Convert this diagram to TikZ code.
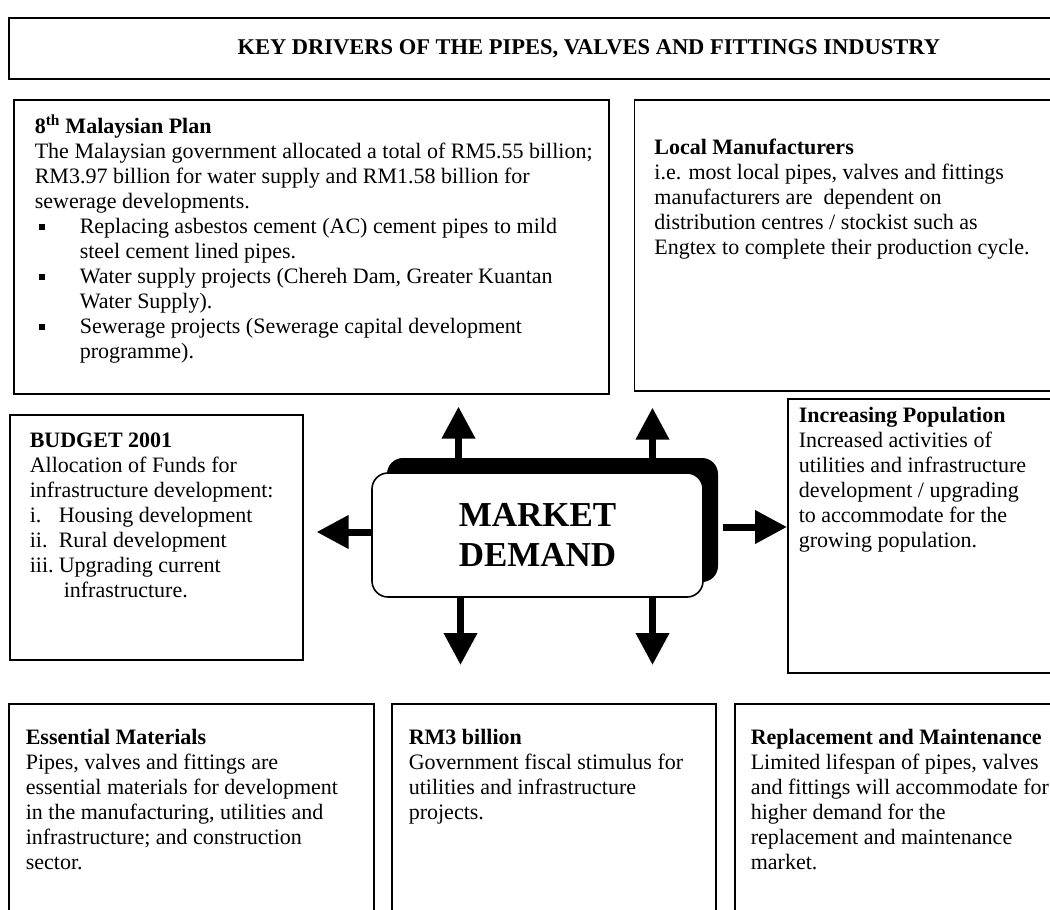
\documentclass[tikz,border=0pt]{standalone}
\usepackage{fontspec}
\setmainfont{Liberation Serif}
\usetikzlibrary{positioning}
\usetikzlibrary{arrows.meta}
\usetikzlibrary{shadows}

\newcommand{\blt}{\hspace*{4pt}\makebox[41pt][l]{\rule[4pt]{6pt}{6pt}}}
\newcommand{\hang}{\hspace*{45pt}}

\begin{document}
\begin{tikzpicture}[
            x = 1pt, y = -1pt, % pixel grid, y runs down
            > = {Triangle[length=32pt,width=32pt]}, % fat arrow head
            line width = 1.6pt
        ]

        \tikzstyle{box}=[draw, rectangle, inner sep=0pt, anchor=north west]
        \tikzstyle{txt}=[inner sep=0pt, anchor=north west, align=left,
            font=\fontsize{22}{25}\selectfont]
        \tikzstyle{fat}=[->, line width=7pt]

        \useasboundingbox (0,0) rectangle (1050,910);
        \clip (0,0) rectangle (1050,910);

	% title
        \node[box, minimum width=1160pt, minimum height=61pt,
            font=\fontsize{22.5}{25}\selectfont\bfseries] (title) at (8,17)
            {KEY DRIVERS OF THE PIPES, VALVES AND FITTINGS INDUSTRY};

	% top row
        \node[box, minimum width=595pt, minimum height=294pt] (plan) at (13,99) {};
        \node[box, minimum width=440pt, minimum height=291pt] (local) [right=24pt of plan.north east, anchor=north west] {};

        \node[txt] (plantxt) at ([shift={(21pt,-15.5pt)}]plan.north west) {\strut\textbf{8\textsuperscript{th} Malaysian Plan}\\
            The Malaysian government allocated a total of RM5.55 billion;\\
            RM3.97 billion for water supply and RM1.58 billion for\\
            sewerage developments.\\
            \blt Replacing asbestos cement (AC) cement pipes to mild\\
            \hang steel cement lined pipes.\\
            \blt Water supply projects (Chereh Dam, Greater Kuantan\\
            \hang Water Supply).\\
            \blt Sewerage projects (Sewerage capital development\\
            \hang programme).};
        \node[txt] (localtxt) at ([shift={(20pt,-37.5pt)}]local.north west) {\strut\textbf{Local Manufacturers}\\
            i.e. most local pipes, valves and fittings\\
            manufacturers are\ \ dependent on\\
            distribution centres / stockist such as\\
            Engtex to complete their production cycle.};

	% middle row
        \node[box, minimum width=293pt, minimum height=245pt] (budget) at (9,414) {};
        \node[box, minimum width=275pt, minimum height=274pt] (pop) at (787,398) {};

        \node[txt] (budgettxt) at ([shift={(20pt,-15.5pt)}]budget.north west) {\strut\textbf{BUDGET 2001}\\
            Allocation of Funds for\\
            infrastructure development:\\
            \makebox[29pt][l]{i.}Housing development\\
            \makebox[29pt][l]{ii.}Rural development\\
            \makebox[29pt][l]{iii.}Upgrading current\\
            \hspace*{34pt}infrastructure.};
        \node[txt] (poptxt) at ([shift={(11pt,-6.5pt)}]pop.north west) {\strut\textbf{Increasing Population}\\
            Increased activities of\\
            utilities and infrastructure\\
            development / upgrading\\
            to accommodate for the\\
            growing population.};

        \node[draw, fill=white, rounded corners=16pt, minimum width=331pt, minimum height=124pt,
            align=center, font=\fontsize{35}{40}\selectfont\bfseries,
            general shadow={fill=black, shadow xshift=15pt, shadow yshift=15pt}] (md) at (537.5,535) {MARKET\\DEMAND};

	% bottom row
        \node[box, minimum width=365pt, minimum height=220pt] (essential) at (8,703) {};
        \node[box, minimum width=324pt, minimum height=220pt] (rm3) at (391,703) {};
        \node[box, minimum width=330pt, minimum height=220pt] (repl) at (734,703) {};

        \node[txt] (essentialtxt) at ([shift={(17pt,-23.5pt)}]essential.north west) {\strut\textbf{Essential Materials}\\
            Pipes, valves and fittings are\\
            essential materials for development\\
            in the manufacturing, utilities and\\
            infrastructure; and construction\\
            sector.};
        \node[txt] (rm3txt) at ([shift={(17pt,-23.5pt)}]rm3.north west) {\strut\textbf{RM3 billion}\\
            Government fiscal stimulus for\\
            utilities and infrastructure\\
            projects.};
        \node[txt] (repltxt) at ([shift={(16pt,-23.5pt)}]repl.north west) {\strut\textbf{Replacement and Maintenance}\\
            Limited lifespan of pipes, valves\\
            and fittings will accommodate for\\
            higher demand for the\\
            replacement and maintenance\\
            market.};

	% arrows out of the demand box
        \path[fat, shorten >=12pt] ([xshift=-79pt]md.north) edge ([xshift=-79pt]md.north |- plan.south);
        \path[fat, shorten >=16pt] ([xshift=115pt]md.north) edge ([xshift=115pt]md.north |- local.south);
        \path[fat, shorten >=38pt] ([xshift=-77pt]md.south) edge ([xshift=-77pt]md.south |- rm3.north);
        \path[fat, shorten >=38pt] ([xshift=115pt]md.south) edge ([xshift=115pt]md.south |- rm3.north);
        \path[fat, shorten >=13pt] ([yshift=3pt]md.west) edge ([yshift=3pt]md.west -| budget.east);
        \path[fat, shorten <=19pt] ([yshift=8pt]md.east) edge ([yshift=8pt]md.east -| pop.west);

\end{tikzpicture}
\end{document}
